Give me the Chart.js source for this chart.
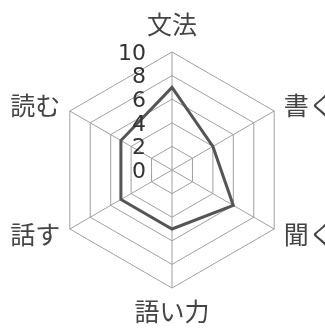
<!DOCTYPE html>
<html>
<head>
<meta charset="utf-8">
<script src="https://cdn.jsdelivr.net/npm/chart.js@4/dist/chart.umd.min.js"></script>
<style>
  html, body { margin: 0; padding: 0; background: #fff; }
  canvas { display: block; }
</style>
</head>
<body>
<canvas id="chart" width="325" height="328"></canvas>
<script>
const categories = ['文法', '書く', '聞く', '語い力', '話す', '読む'];
const scores = [7, 4, 6, 5, 5, 5];
const tickValues = [0, 2, 4, 6, 8, 10];

// labels drawn by hand so the plot keeps the reference's size and spot
const labelPlugin = {
    id: 'labels',
    afterDraw(chart) {
        const scale = chart.scales.r;
        const ctx = chart.ctx;
        ctx.save();

        ctx.fillStyle = '#333';
        ctx.font = '22px "DejaVu Sans"';
        ctx.textAlign = 'right';
        ctx.textBaseline = 'middle';
        tickValues.forEach(v => {
            const y = scale.yCenter - scale.getDistanceFromCenterForValue(v) + 2;
            ctx.fillText(String(v), scale.xCenter - 26, y);
        });

        ctx.fillStyle = '#444';
        ctx.font = '25px "Noto Sans CJK JP"';
        ctx.textBaseline = 'middle';
        categories.forEach((name, i) => {
            const pos0 = scale.getPointPosition(i, scale.drawingArea);
            let pad = 11;
            let align = 'center';
            if (pos0.x > scale.xCenter + 1) align = 'left';
            else if (pos0.x < scale.xCenter - 1) align = 'right';
            else pad = pos0.y < scale.yCenter ? 28 : 23;
            const pos = scale.getPointPosition(i, scale.drawingArea + pad);
            ctx.textAlign = align;
            ctx.fillText(name, pos.x, pos.y);
        });
        ctx.restore();
    }
};

new Chart(document.getElementById('chart'), {
    type: 'radar',
    data: {
        labels: categories,
        datasets: [{
            data: scores,
            borderColor: '#555',
            borderWidth: 3,
            backgroundColor: 'rgba(0,0,0,0)',
            fill: false,
            pointRadius: 0,
            tension: 0
        }]
    },
    options: {
        responsive: false,
        animation: false,
        layout: {
            padding: { left: 54, right: 35, top: 52, bottom: 40 }
        },
        scales: {
            r: {
                min: 0,
                max: 10,
                ticks: { stepSize: 2, display: false },
                grid: { color: '#a0a0a0', lineWidth: 1 },
                angleLines: { color: '#a0a0a0', lineWidth: 1 },
                pointLabels: { display: false }
            }
        },
        plugins: {
            legend: { display: false },
            tooltip: { enabled: false }
        }
    },
    plugins: [labelPlugin]
});
</script>
</body>
</html>
